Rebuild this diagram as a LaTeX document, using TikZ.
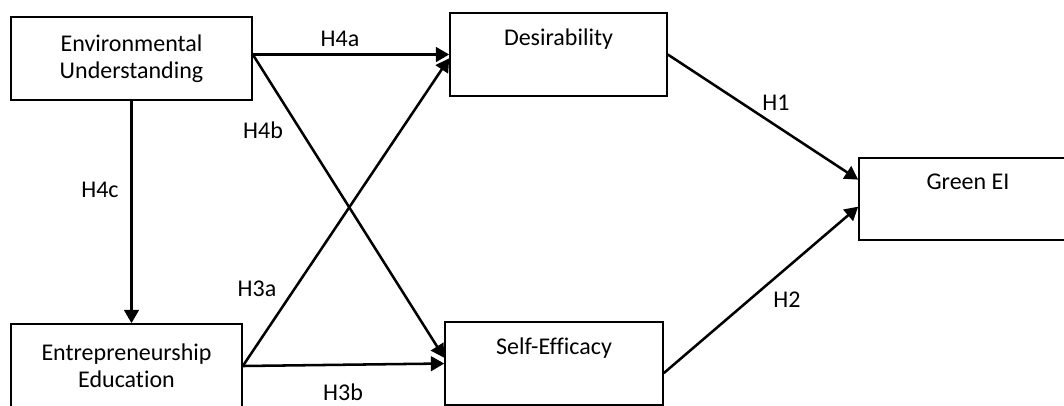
\documentclass[tikz,border=0pt]{standalone}
\usepackage{fontspec}
\setmainfont{Carlito}[Ligatures={NoCommon}]
\usetikzlibrary{arrows.meta}

\tikzset{
    var/.style={draw, line width=1.2pt, inner sep=0pt, align=center,
        font=\fontsize{18pt}{20.5pt}\selectfont, minimum height=62.25pt},
    hyp/.style={-{Triangle[length=10pt,width=11pt]}, line width=1.9pt},
    hlabel/.style={inner sep=0pt, font=\fontsize{18pt}{20.5pt}\selectfont}
}

\begin{document}
\begin{tikzpicture}[x=0.75pt, y=-0.75pt]
    \useasboundingbox (0,0) rectangle (1064,405);
    \node[var, minimum width=180.75pt]                     (EU)  at (131.5,58.5) {Environmental\\Understanding};
    \node[var, minimum width=173.25pt, minimum height=63pt] (EE)  at (126.5,366)  {Entrepreneurship\\Education};
    \node[var, minimum width=162.75pt]                     (Des) at (558.5,54.5) {Desirability\\\strut};
    \node[var, minimum width=163.5pt]                      (SE)  at (554,363.5)  {Self-Efficacy\\\strut};
    \node[var, minimum width=163.5pt, minimum height=61.5pt] (GEI) at (968,199)  {Green EI\\\strut};

    \node[hlabel] (h4a) at (340,39)  {H4a};
    \node[hlabel] (h4b) at (263,130) {H4b};
    \node[hlabel] (h4c) at (100,190) {H4c};
    \node[hlabel] (h3a) at (257,289) {H3a};
    \node[hlabel] (h3b) at (343,392) {H3b};
    \node[hlabel] (h1)  at (776,103) {H1};
    \node[hlabel] (h2)  at (787,300) {H2};

    \draw[hyp] (EU.east |- Des.west) -- (Des.west);
    \draw[hyp] (EU.east |- Des.west) -- (SE.177);
    \draw[hyp] (EE.east)             -- (Des.182);
    \draw[hyp] (EE.east)             -- (SE.west);
    \draw[hyp] (EU.south)            -- (EU.south |- EE.north);
    \draw[hyp] (Des.east)            -- (GEI.170);
    \draw[hyp] (SE.355)              -- (GEI.184);
\end{tikzpicture}
\end{document}
